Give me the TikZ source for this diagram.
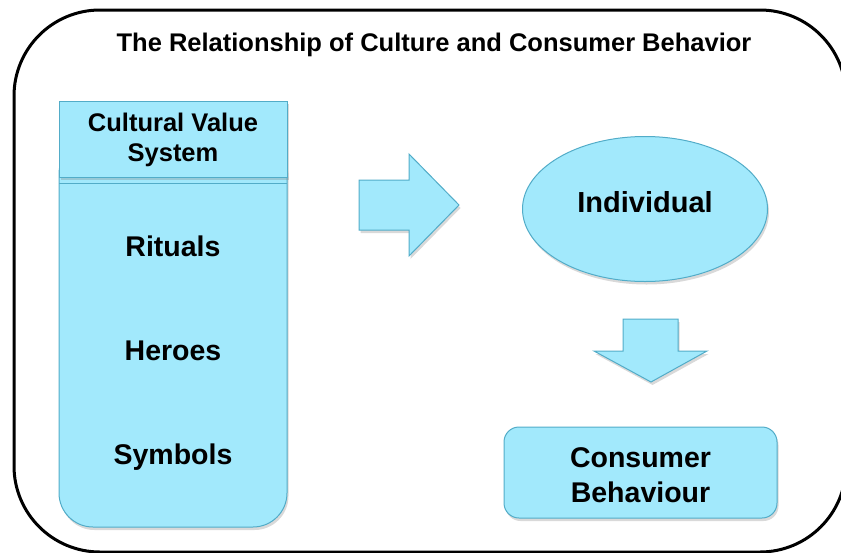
\documentclass[tikz,border=0pt]{standalone}
\usepackage{fontspec}
\setmainfont{Liberation Sans}
\usetikzlibrary{shadows,shapes.geometric}
\definecolor{boxfill}{RGB}{162,233,252}
\definecolor{boxline}{RGB}{82,172,200}

\begin{document}
\begin{tikzpicture}[x=1pt,y=-1pt,
	box/.style={fill=boxfill,draw=boxline,line width=1pt,drop shadow={shadow xshift=1.5pt,shadow yshift=-3pt,opacity=.3}},
	lbl/.style={font=\bfseries\fontsize{28.5}{32}\selectfont,align=center}]
			\clip (0,0) rectangle (841,552);
			\path
			(59,101) coordinate (HT)
			(287,177) coordinate (HB)
			(59,140) coordinate (CT)
			(287,527) coordinate (CB)
			(645,209) coordinate (I)
			;
			% outer frame and title
			\draw[line width=3pt,rounded corners=86pt] (14,10) rectangle (846,552);
			\node[font=\bfseries\fontsize{25.5}{30}\selectfont,anchor=base] (title) at (434,51) {The Relationship of Culture and Consumer Behavior};
			% value system column
			\draw[box,rounded corners=34pt] (CT) rectangle (CB);
			\draw[box] (HT) rectangle (HB);
			\draw[boxline,line width=1pt] (59,183)--(287,183);
			\node[lbl,font=\bfseries\fontsize{25.5}{30}\selectfont] (cvs) at (173,140) {Cultural Value\\System};
			\foreach \t/\y in {Rituals/256,Heroes/360,Symbols/464} \node[lbl,anchor=base] (\t) at (173,\y) {\t};
			% block arrows
			\draw[box] (359,180)--(409,180)--(409,154)--(459,205)--(409,256)--(409,230)--(359,230)--cycle;
			\draw[box] (623,319)--(678,319)--(678,351)--(707,351)--(651,382)--(594,351)--(623,351)--cycle;
			% individual and behaviour
			\node[box,ellipse,minimum width=245pt,minimum height=145pt] (ind) at (I) {};
			\node[lbl,font=\bfseries\fontsize{29}{34}\selectfont,anchor=base] (indtxt) at (645,212) {Individual};
			\node[box,lbl,font=\bfseries\fontsize{28.5}{35}\selectfont,rounded corners=15pt,minimum width=273pt,minimum height=91pt] (cb) at (640.5,472.5) {};
			\node[lbl,font=\bfseries\fontsize{28.5}{35}\selectfont] (cbtxt) at (640.5,475.5) {Consumer\\Behaviour};
		\end{tikzpicture}
\end{document}
